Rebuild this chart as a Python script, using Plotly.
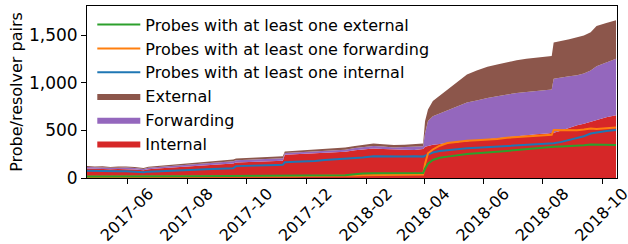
import plotly.graph_objects as go

dates = [
    "2017-04-20", "2017-04-28", "2017-05-06", "2017-05-14", "2017-05-22", "2017-05-30",
    "2017-06-08", "2017-06-17", "2017-06-22", "2017-07-01", "2017-07-10", "2017-07-20",
    "2017-08-01", "2017-08-10", "2017-08-20", "2017-09-01", "2017-09-10", "2017-09-17",
    "2017-09-20", "2017-10-05", "2017-10-20", "2017-11-01", "2017-11-07", "2017-11-09",
    "2017-11-20", "2017-12-01", "2017-12-10", "2017-12-20", "2018-01-01", "2018-01-10",
    "2018-01-20", "2018-01-28", "2018-02-08", "2018-02-18", "2018-03-01", "2018-03-12",
    "2018-03-22", "2018-03-31",
    "2018-04-02", "2018-04-05", "2018-04-10", "2018-04-17", "2018-04-25", "2018-05-05",
    "2018-05-15", "2018-05-25", "2018-06-05", "2018-06-15", "2018-06-25", "2018-07-05",
    "2018-07-15", "2018-07-25", "2018-08-05", "2018-08-10", "2018-08-12", "2018-08-20",
    "2018-08-28", "2018-09-05", "2018-09-12", "2018-09-19", "2018-09-25", "2018-10-05",
    "2018-10-15",
]

internal = [
    100, 96, 97, 92, 94, 95, 90, 82, 92, 99, 106, 112,
    118, 123, 130, 140, 146, 152, 163, 171, 176, 179, 181, 244,
    250, 256, 262, 266, 271, 275, 293, 303, 311, 306, 298, 296,
    294, 305,
    330, 340, 350, 358, 365, 375, 385, 398, 408, 418, 430, 440,
    450, 460, 468, 470, 475, 500, 530, 556, 570, 590, 610, 640,
    660,
]
forwarding = [
    15, 14, 15, 15, 15, 16, 15, 14, 15, 15, 16, 17,
    20, 20, 20, 21, 21, 23, 23, 24, 25, 25, 26, 18,
    18, 20, 20, 21, 23, 23, 22, 22, 25, 25, 24, 30,
    38, 30,
    140, 260, 300, 322, 347, 385, 410, 417, 435, 442, 450, 455,
    455, 455, 457, 460, 570, 560, 540, 524, 530, 540, 565, 575,
    595,
]
external = [
    10, 10, 11, 10, 11, 11, 11, 10, 11, 12, 13, 13,
    14, 14, 15, 17, 18, 20, 19, 20, 21, 22, 23, 18,
    20, 21, 23, 24, 24, 24, 23, 25, 26, 25, 24, 24,
    26, 27,
    130, 120, 160, 185, 213, 245, 295, 315, 327, 335, 340, 345,
    350, 350, 350, 355, 380, 380, 390, 400, 400, 405, 425, 415,
    405,
]
probes_internal = [
    75, 72, 73, 68, 70, 71, 67, 61, 67, 72, 77, 80,
    85, 88, 91, 97, 99, 102, 125, 132, 135, 137, 139, 165,
    170, 174, 180, 190, 197, 200, 206, 215, 228, 226, 222, 226,
    230, 225,
    235, 250, 268, 283, 293, 303, 313, 318, 324, 330, 338, 345,
    350, 355, 360, 362, 365, 380, 400, 416, 440, 468, 480, 495,
    505,
]
probes_forwarding = [
    12, 12, 13, 12, 12, 13, 12, 12, 13, 13, 14, 14,
    14, 15, 15, 16, 16, 17, 17, 17, 18, 18, 18, 19,
    19, 20, 20, 21, 22, 23, 25, 28, 30, 30, 32, 33,
    35, 36,
    150, 260, 300, 340, 368, 383, 393, 398, 404, 410, 424, 432,
    440, 445, 450, 455, 505, 505, 500, 503, 510, 520, 515, 522,
    532,
]
probes_external = [
    15, 16, 16, 16, 17, 17, 17, 16, 17, 18, 18, 19,
    19, 20, 20, 20, 21, 21, 21, 21, 22, 22, 22, 23,
    24, 25, 26, 27, 28, 30, 40, 48, 50, 50, 50, 50,
    52, 52,
    100, 150, 190, 212, 225, 240, 253, 260, 267, 275, 285, 295,
    305, 315, 325, 328, 328, 332, 335, 335, 345, 353, 350, 348,
    346,
]

tick_vals = ["2017-06-01", "2017-08-01", "2017-10-01", "2017-12-01", "2018-02-01",
             "2018-04-01", "2018-06-01", "2018-08-01", "2018-10-01"]
tick_text = ["2017-06", "2017-08", "2017-10", "2017-12", "2018-02",
             "2018-04", "2018-06", "2018-08", "2018-10"]

RED = "#d62728"
PURPLE = "#9467bd"
BROWN = "#8c564b"
BLUE = "#1f77b4"
ORANGE = "#ff7f0e"
GREEN = "#2ca02c"

fig = go.Figure()
for name, vals, col in [("Internal", internal, RED),
                        ("Forwarding", forwarding, PURPLE),
                        ("External", external, BROWN)]:
    fig.add_trace(go.Scatter(x=dates, y=vals, name=name, mode="lines",
                             stackgroup="s", line=dict(width=0, color=col),
                             fillcolor=col, legendgroup=name))

for name, vals, col in [("Probes with at least one internal", probes_internal, BLUE),
                        ("Probes with at least one forwarding", probes_forwarding, ORANGE),
                        ("Probes with at least one external", probes_external, GREEN)]:
    fig.add_trace(go.Scatter(x=dates, y=vals, name=name, mode="lines",
                             line=dict(width=2, color=col), legendgroup=name))

font = "DejaVu Sans"
fig.update_layout(
    width=628, height=244,
    margin=dict(l=87, r=11, t=6, b=66),
    plot_bgcolor="white", paper_bgcolor="white",
    font=dict(family=font, size=16, color="black"),
    showlegend=True,
    legend=dict(x=0.01, y=0.99, xanchor="left", yanchor="top",
                traceorder="reversed", tracegroupgap=0, itemwidth=43,
                bgcolor="rgba(255,255,255,0)", font=dict(size=16)),
    xaxis=dict(range=["2017-04-20", "2018-10-16"], tickvals=tick_vals, ticktext=tick_text,
               tickangle=-45, ticks="outside", ticklen=5, tickcolor="black",
               showline=True, linecolor="black", linewidth=1, mirror=True,
               showgrid=False, zeroline=False, tickfont=dict(size=16),
               ticklabelshift=21, ticklabelstandoff=-6, ticklabeloverflow="allow",
               automargin=False),
    yaxis=dict(range=[0, 1810], tickvals=[0, 500, 1000, 1500],
               ticktext=["0", "500", "1,000", "1,500"],
               ticks="outside", ticklen=5, tickcolor="black",
               showline=True, linecolor="black", linewidth=1, mirror=True,
               showgrid=False, zeroline=False, tickfont=dict(size=17), automargin=False,
               title=dict(text="Probe/resolver pairs", font=dict(size=16), standoff=2)),
)

fig.write_html("out.html", config={"displayModeBar": False},
               post_script="document.body.style.margin='0';")
